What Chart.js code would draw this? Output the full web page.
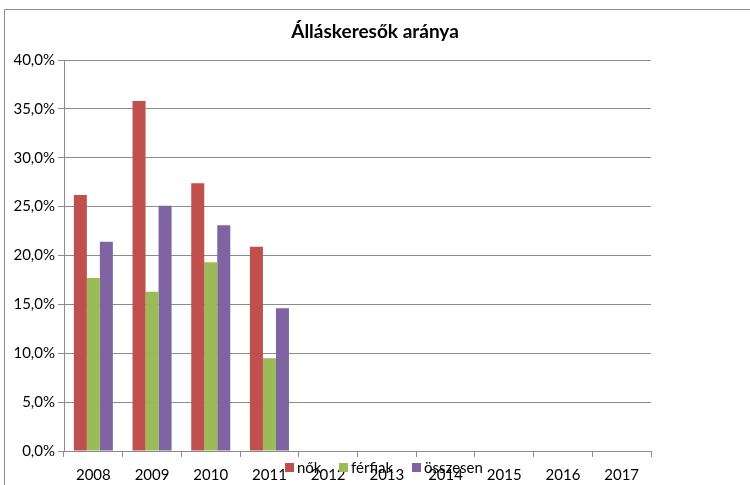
<!DOCTYPE html>
<html lang="hu">
<head>
  <meta charset="UTF-8">
  <title>Álláskeresők aránya</title>
  <script src="https://cdn.jsdelivr.net/npm/chart.js"></script>
  <style>
    html, body { margin: 0; padding: 0; background: #ffffff; }
    #wrap { width: 750px; height: 485px; }
  </style>
</head>
<body>
  <div id="wrap"><canvas id="jobChart" width="750" height="485"></canvas></div>

  <script>
    const years = ['2008', '2009', '2010', '2011', '2012', '2013', '2014', '2015', '2016', '2017'];
    const nok = [26.2, 35.8, 27.4, 20.9, null, null, null, null, null, null];
    const ferfiak = [17.7, 16.3, 19.3, 9.5, null, null, null, null, null, null];
    const osszesen = [21.4, 25.1, 23.1, 14.6, null, null, null, null, null, null];

    const chartTitle = 'Álláskeresők aránya';
    const fontName = 'Lato, "Noto Sans", sans-serif';

    // keret, cím a teljes szélesség közepén, egyedi jelmagyarázat (rálóg a feliratokra)
    const frameAndLegend = {
      id: 'frameAndLegend',
      beforeDraw(chart) {
        const c = chart.ctx;
        c.save();
        c.strokeStyle = '#8c8c8c';
        c.lineWidth = 1;
        c.beginPath();
        c.moveTo(4.5, 485);
        c.lineTo(4.5, 9.5);
        c.lineTo(750, 9.5);
        c.stroke();
        c.restore();
      },
      afterDraw(chart) {
        const c = chart.ctx;
        c.save();
        c.fillStyle = '#000000';
        c.font = 'bold 19px ' + fontName;
        c.textAlign = 'center';
        c.textBaseline = 'middle';
        c.fillText(chartTitle, 375, 32);

        const pos = [285, 339, 412];
        c.font = '15px ' + fontName;
        c.textAlign = 'left';
        chart.data.datasets.forEach((ds, i) => {
          c.fillStyle = ds.backgroundColor;
          c.fillRect(pos[i], 463, 9, 9);
          c.fillStyle = '#000000';
          c.fillText(ds.label, pos[i] + 12, 468);
        });
        c.restore();
      }
    };

    const ctx = document.getElementById('jobChart').getContext('2d');
    const chart = new Chart(ctx, {
      type: 'bar',
      data: {
        labels: years,
        datasets: [
          { label: 'nők', data: nok, backgroundColor: '#C0504D' },
          { label: 'férfiak', data: ferfiak, backgroundColor: '#9BBB59' },
          { label: 'összesen', data: osszesen, backgroundColor: '#8064A2' }
        ]
      },
      options: {
        responsive: false,
        animation: false,
        layout: { padding: { left: 5, right: 99, top: 60, bottom: 0 } },
        datasets: {
          bar: { barPercentage: 1, categoryPercentage: 0.665 }
        },
        plugins: {
          legend: { display: false },
          tooltip: { enabled: false },
          title: { display: false }
        },
        scales: {
          x: {
            grid: {
              offset: true,
              drawOnChartArea: false,
              drawTicks: true,
              tickLength: 6,
              color: '#8c8c8c'
            },
            border: { color: '#8c8c8c' },
            ticks: {
              color: '#000000',
              font: { family: fontName, size: 15 },
              padding: 9,
              maxRotation: 0,
              autoSkip: false
            },
            afterFit(scale) { scale.height = 34; }
          },
          y: {
            min: 0,
            max: 40,
            grid: {
              color: '#8c8c8c',
              tickLength: 6
            },
            border: { color: '#8c8c8c' },
            ticks: {
              stepSize: 5,
              color: '#000000',
              font: { family: fontName, size: 15 },
              padding: 3,
              callback: v => v.toFixed(1).replace('.', ',') + '%'
            },
            afterFit(scale) { scale.width = 59; }
          }
        }
      },
      plugins: [frameAndLegend]
    });
  </script>
</body>
</html>
